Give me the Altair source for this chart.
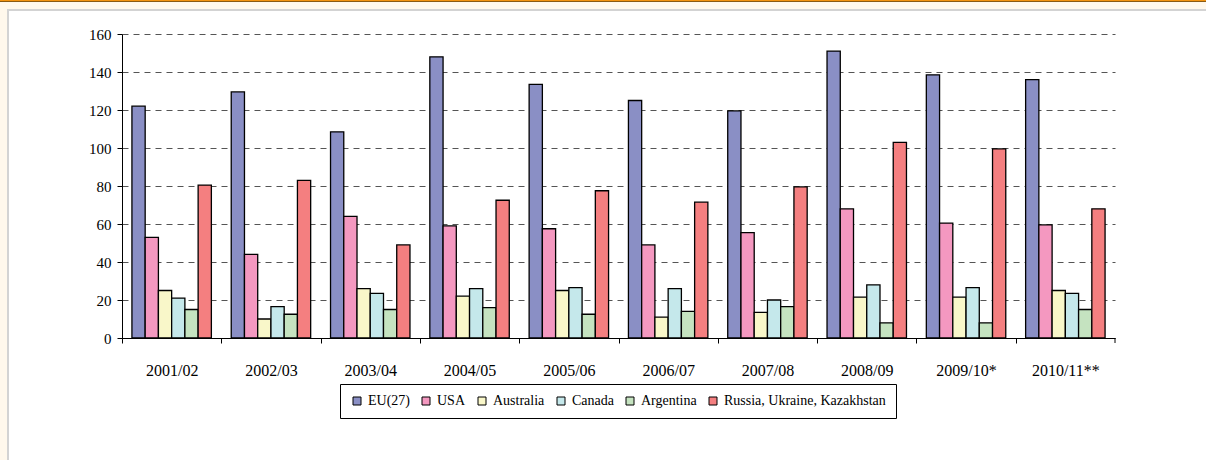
import altair as alt
import pandas as pd

# Grain exports by exporter, million tonnes
seasons = ["2001/02", "2002/03", "2003/04", "2004/05", "2005/06",
           "2006/07", "2007/08", "2008/09", "2009/10*", "2010/11**"]
exporters = ["EU(27)", "USA", "Australia", "Canada", "Argentina",
             "Russia, Ukraine, Kazakhstan"]

eu27 = [122, 129.5, 108.5, 148, 133.5, 125, 119.5, 151, 138.5, 136]
usa = [53, 44, 64, 59, 57.5, 49, 55.5, 68, 60.5, 59.5]
australia = [25, 10, 26, 22, 25, 11, 13.5, 21.5, 21.5, 25]
canada = [21, 16.5, 23.5, 26, 26.5, 26, 20, 28, 26.5, 23.5]
argentina = [15, 12.5, 15, 16, 12.5, 14, 16.5, 8, 8, 15]
black_sea = [80.5, 83, 49, 72.5, 77.5, 71.5, 79.5, 103, 99.5, 68]

colors = ["#8A8FC5", "#F498C0", "#F9F7C9", "#C5E8EB", "#C5E3C0", "#F47F80"]

rows = []
for name, vals in zip(exporters, [eu27, usa, australia, canada, argentina, black_sea]):
    for season, v in zip(seasons, vals):
        rows.append({"season": season, "exporter": name, "value": v})
df = pd.DataFrame(rows)

W, H = 993, 304
PAD_L, PAD_T, PAD_R, PAD_B = 122, 34, 91, 122
SERIF = "Liberation Serif"
STEP = W / len(seasons)
GAP = STEP * 0.1  # half of the inner band padding

one = alt.Data(values=[{}])


def band(x, x2, y, y2, color):
    return alt.Chart(one).mark_rect(color=color).encode(
        x=alt.value(x), x2=alt.value(x2), y=alt.value(y), y2=alt.value(y2)
    )


# page frame: cream margin, orange rule on top, grey edge of the white panel
frame = [
    band(-PAD_L, W + PAD_R, -PAD_T, -PAD_T + 10, "#FFF8EC"),
    band(-PAD_L, -PAD_L + 8, -PAD_T, H + PAD_B, "#FFF8EC"),
    band(-PAD_L, W + PAD_R, -PAD_T, -PAD_T + 1, "#F39410"),
    band(-PAD_L, W + PAD_R, -PAD_T + 1, -PAD_T + 2, "#8A5A12"),
    band(-PAD_L + 7, W + PAD_R, -PAD_T + 9, -PAD_T + 11, "#D3D3D3"),
    band(-PAD_L + 7, -PAD_L + 9, -PAD_T + 9, H + PAD_B, "#D3D3D3"),
]

bars = alt.Chart(df).mark_bar(stroke="black", strokeWidth=1.3).encode(
    x=alt.X(
        "season:N", sort=seasons, title=None,
        scale=alt.Scale(paddingInner=0.2, paddingOuter=0.1),
        axis=alt.Axis(
            bandPosition=0, tickOffset=-GAP, labelOffset=GAP, labelAngle=0,
            tickSize=5, tickColor="black", domainColor="black",
            labelPadding=19, labelFont=SERIF, labelFontSize=16,
            labelColor="black", grid=False,
        ),
    ),
    xOffset=alt.XOffset("exporter:N", sort=exporters,
                        scale=alt.Scale(paddingInner=0, paddingOuter=0)),
    y=alt.Y(
        "value:Q", title=None,
        scale=alt.Scale(domain=[0, 160], nice=False),
        axis=alt.Axis(
            values=list(range(0, 161, 20)), grid=True, gridDash=[6, 5],
            gridColor="#555555", gridWidth=1, tickSize=5, tickColor="black",
            domainColor="black", labelPadding=6, labelFont=SERIF,
            labelFontSize=15, labelColor="black",
        ),
    ),
    color=alt.Color(
        "exporter:N", sort=exporters,
        scale=alt.Scale(domain=exporters, range=colors),
        legend=alt.Legend(
            title=None, orient="none", legendX=218, legendY=350,
            direction="horizontal", symbolType="square", symbolSize=64,
            symbolStrokeColor="black", symbolStrokeWidth=1,
            labelFont=SERIF, labelFontSize=14, labelColor="black",
            labelLimit=0, columnPadding=9, padding=10,
            strokeColor="black", fillColor="white",
        ),
    ),
)

# closing tick at the right end of the category axis
end_tick = alt.Chart(one).mark_rule(color="black").encode(
    x=alt.value(W), y=alt.value(H), y2=alt.value(H + 5)
)

chart = alt.layer(*frame, bars, end_tick).properties(
    width=W, height=H,
    autosize=alt.AutoSizeParams(type="none"),
    padding={"left": PAD_L, "top": PAD_T, "right": PAD_R, "bottom": PAD_B},
    background="white",
).configure_view(stroke=None)

chart.save("out.html", embed_options={"renderer": "svg", "actions": False})
